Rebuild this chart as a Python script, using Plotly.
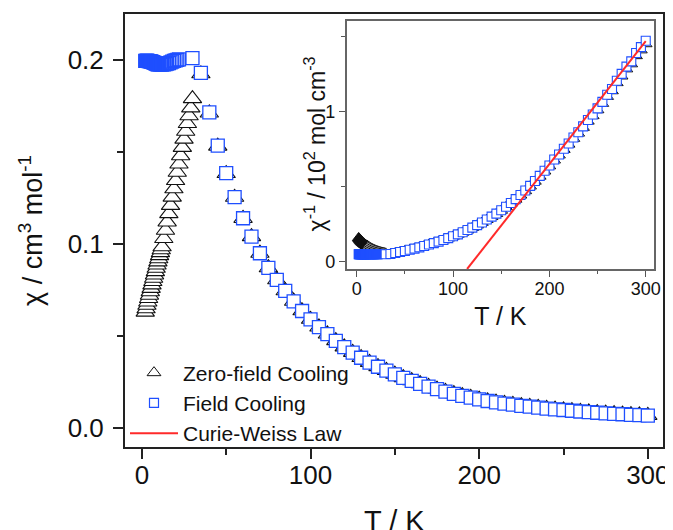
import plotly.graph_objects as go

# ---------------- data ----------------
# Zero-field cooling (ZFC): temperature (K) and susceptibility (cm3/mol)
T_zfc = [2.0, 2.5, 3.0, 3.5, 4.0, 4.5, 5.0, 5.5, 6.0, 6.5, 7.0, 7.5, 8.0, 8.5, 9.0, 9.5, 10.0, 10.5, 11.0, 11.5,
         12, 13, 14, 15, 16, 17, 18, 19, 20, 21, 22, 23, 24, 25, 26, 27, 28, 29, 30,
         35, 40, 45, 50, 55, 60, 65, 70, 75, 80, 85, 90, 95, 100, 105, 110, 115, 120, 125, 130, 135, 140,
         145, 150, 155, 160, 165, 170, 175, 180, 185, 190, 195, 200, 205, 210, 215, 220, 225, 230, 235,
         240, 245, 250, 255, 260, 265, 270, 275, 280, 285, 290, 295, 300]
chi_zfc = [0.0630, 0.0648, 0.0667, 0.0685, 0.0704, 0.0722, 0.0741, 0.0759, 0.0778, 0.0796, 0.0814, 0.0832,
           0.0850, 0.0868, 0.0886, 0.0903, 0.0920, 0.0937, 0.0953, 0.0969,
           0.0985, 0.1030, 0.1075, 0.1120, 0.1165, 0.1210, 0.1255, 0.1300, 0.1345, 0.1390, 0.1435, 0.1480,
           0.1525, 0.1570, 0.1613, 0.1655, 0.1697, 0.1740, 0.1790,
           0.1925, 0.1712, 0.1532, 0.1383, 0.1254, 0.1139, 0.1040, 0.0950, 0.0871, 0.0806, 0.0746, 0.0689,
           0.0637, 0.0591, 0.0549, 0.0511, 0.0475, 0.0441, 0.0411, 0.0383, 0.0357, 0.0334, 0.0313, 0.0293,
           0.0274, 0.0257, 0.0241, 0.0226, 0.0212, 0.0199, 0.0187, 0.0176, 0.0166, 0.0157, 0.0148, 0.0141,
           0.0134, 0.0128, 0.0122, 0.0117, 0.0112, 0.0107, 0.0103, 0.0099, 0.0095, 0.0091, 0.0088, 0.0084,
           0.0081, 0.0078, 0.0076, 0.0073, 0.0071, 0.0069]

# Field cooling (FC)
T_fc = [2.0, 2.5, 3.0, 3.5, 4.0, 4.5, 5.0, 5.5, 6.0, 6.5, 7.0, 7.5, 8.0, 8.5, 9.0, 9.5, 10.0,
        11, 12, 13, 14, 15, 16, 17, 18, 19, 20, 21, 22,
        30, 35, 40, 45, 50, 55, 60, 65, 70, 75, 80, 85, 90, 95, 100, 105, 110, 115, 120, 125, 130, 135,
        140, 145, 150, 155, 160, 165, 170, 175, 180, 185, 190, 195, 200, 205, 210, 215, 220, 225, 230,
        235, 240, 245, 250, 255, 260, 265, 270, 275, 280, 285, 290, 295, 300]
chi_fc = [0.1995, 0.1995, 0.1996, 0.1995, 0.1994, 0.1994, 0.1993, 0.1992, 0.1990, 0.1988, 0.1986, 0.1984,
          0.1982, 0.1980, 0.1978, 0.1977, 0.1976,
          0.1975, 0.1975, 0.1976, 0.1978, 0.1980, 0.1983, 0.1987, 0.1991, 0.1995, 0.1998, 0.2001, 0.2003,
          0.2010, 0.1930, 0.1715, 0.1535, 0.1385, 0.1255, 0.1140, 0.1040, 0.0950, 0.0870, 0.0805, 0.0745,
          0.0688, 0.0636, 0.0590, 0.0548, 0.0510, 0.0474, 0.0440, 0.0410, 0.0382, 0.0356, 0.0333, 0.0312,
          0.0292, 0.0273, 0.0256, 0.0240, 0.0225, 0.0211, 0.0198, 0.0186, 0.0175, 0.0165, 0.0156, 0.0147,
          0.0140, 0.0133, 0.0127, 0.0121, 0.0116, 0.0111, 0.0106, 0.0102, 0.0098, 0.0094, 0.0090, 0.0087,
          0.0083, 0.0080, 0.0077, 0.0075, 0.0072, 0.0070, 0.0068]

# Curie-Weiss fit line in the inset (T in K, chi^-1 in 10^2 mol cm^-3)
T_cw = [114.6, 300]
inv_cw = [-0.048, 1.468]

# inset quantity: chi^-1 / 10^2
inv_zfc = [1.0 / (100.0 * c) for c in chi_zfc]
inv_fc = [1.0 / (100.0 * c) for c in chi_fc]

# ---------------- styling ----------------
FONT = "Liberation Sans, Arial, sans-serif"
BLUE = "#1f4fff"
BLACK = "#111111"
RED = "#ff2a2a"
CLEAR = "rgba(255,255,255,0)"

# marker fills: dense low-T measurements merge into solid blobs
fc_fill_main = [BLUE if t <= 10 else (CLEAR if t < 25 else "white") for t in T_fc]
fc_fill_ins = [BLUE if t < 25 else "white" for t in T_fc]
zfc_fill_ins = [BLACK if t < 12 else "white" for t in T_zfc]

fig = go.Figure()

# main panel
fig.add_trace(go.Scatter(x=T_zfc, y=chi_zfc, mode="markers", showlegend=False,
                         marker=dict(symbol="triangle-up", size=16, color="white",
                                     line=dict(color=BLACK, width=1.1))))
fig.add_trace(go.Scatter(x=T_fc, y=chi_fc, mode="markers", showlegend=False,
                         marker=dict(symbol="square", size=13, color=fc_fill_main,
                                     line=dict(color=BLUE, width=1.3))))

# inset panel
fig.add_trace(go.Scatter(x=T_zfc, y=inv_zfc, mode="markers", showlegend=False, xaxis="x2", yaxis="y2",
                         marker=dict(symbol="triangle-up", size=11, color=zfc_fill_ins,
                                     line=dict(color=BLACK, width=1))))
fig.add_trace(go.Scatter(x=T_fc, y=inv_fc, mode="markers", showlegend=False, xaxis="x2", yaxis="y2",
                         marker=dict(symbol="square", size=9, color=fc_fill_ins,
                                     line=dict(color=BLUE, width=1.1))))
fig.add_trace(go.Scatter(x=T_cw, y=inv_cw, mode="lines", showlegend=False, xaxis="x2", yaxis="y2",
                         line=dict(color=RED, width=2)))

# legend entries
fig.add_trace(go.Scatter(x=[None], y=[None], mode="markers", name="Zero-field Cooling",
                         marker=dict(symbol="triangle-up", size=12, color="white",
                                     line=dict(color=BLACK, width=1))))
fig.add_trace(go.Scatter(x=[None], y=[None], mode="markers", name="Field Cooling",
                         marker=dict(symbol="square", size=9, color="white",
                                     line=dict(color=BLUE, width=1.2))))
fig.add_trace(go.Scatter(x=[None], y=[None], mode="lines", name="Curie-Weiss Law",
                         line=dict(color=RED, width=2)))

axis_common = dict(showgrid=False, zeroline=False, showline=True, mirror=True, ticks="outside",
                   automargin=False)

fig.update_layout(
    width=665, height=522,
    margin=dict(l=117, r=10, t=6, b=83),
    paper_bgcolor="white", plot_bgcolor="white",
    font=dict(family=FONT, color="#111111"),
    xaxis=dict(**axis_common, range=[-10, 309], tickvals=[0, 100, 200, 300],
               ticklen=10, tickwidth=1.5, linewidth=2, linecolor="#222222", tickcolor="#222222",
               minor=dict(dtick=50, tick0=0, ticks="outside", ticklen=6, tickwidth=1.5, tickcolor="#222222"),
               tickfont=dict(size=26), ticklabelstandoff=-6),
    yaxis=dict(**axis_common, range=[-0.0103, 0.225], tickvals=[0, 0.1, 0.2],
               ticktext=["0.0", "0.1", "0.2"],
               ticklen=10, tickwidth=1.5, linewidth=2, linecolor="#222222", tickcolor="#222222",
               minor=dict(dtick=0.05, tick0=0, ticks="outside", ticklen=6, tickwidth=1.5, tickcolor="#222222"),
               tickfont=dict(size=26), ticklabelstandoff=4,
               title=dict(text="χ / cm<sup>3</sup> mol<sup>-1</sup>", font=dict(size=27), standoff=17)),
    xaxis2=dict(**axis_common, domain=[0.4121, 0.9833], anchor="y2", range=[-10.4, 308.6],
                tickvals=[0, 100, 200, 300], ticklen=6, tickwidth=1.2,
                linewidth=1.5, linecolor="#666666", tickcolor="#555555",
                minor=dict(dtick=50, tick0=0, ticks="outside", ticklen=3.5, tickwidth=1.2, tickcolor="#555555"),
                tickfont=dict(size=18), ticklabelstandoff=-3,
                title=dict(text="T / K", font=dict(size=25), standoff=9)),
    yaxis2=dict(**axis_common, domain=[0.4111, 0.9845], anchor="x2", range=[-0.048, 1.604],
                tickvals=[0, 1], ticklen=6, tickwidth=1.2,
                linewidth=1.5, linecolor="#666666", tickcolor="#555555",
                minor=dict(dtick=0.5, tick0=0, ticks="outside", ticklen=3.5, tickwidth=1.2, tickcolor="#555555"),
                tickfont=dict(size=18)),
    annotations=[
        dict(text="χ<sup>-1</sup> / 10<sup>2</sup> mol cm<sup>-3</sup>", textangle=-90,
             xref="paper", yref="paper", x=0.354, y=0.6998, xanchor="center", yanchor="middle",
             showarrow=False, font=dict(size=23)),
        dict(text="T / K", xref="paper", yref="paper", x=0.5, y=-0.1293, xanchor="center", yanchor="top",
             showarrow=False, font=dict(size=29)),
    ],
    legend=dict(x=0.0, y=0.1016, xanchor="left", yanchor="middle", bgcolor="rgba(0,0,0,0)",
                font=dict(size=21), traceorder="normal", itemwidth=48, tracegroupgap=0),
)

fig.write_html("out.html")
